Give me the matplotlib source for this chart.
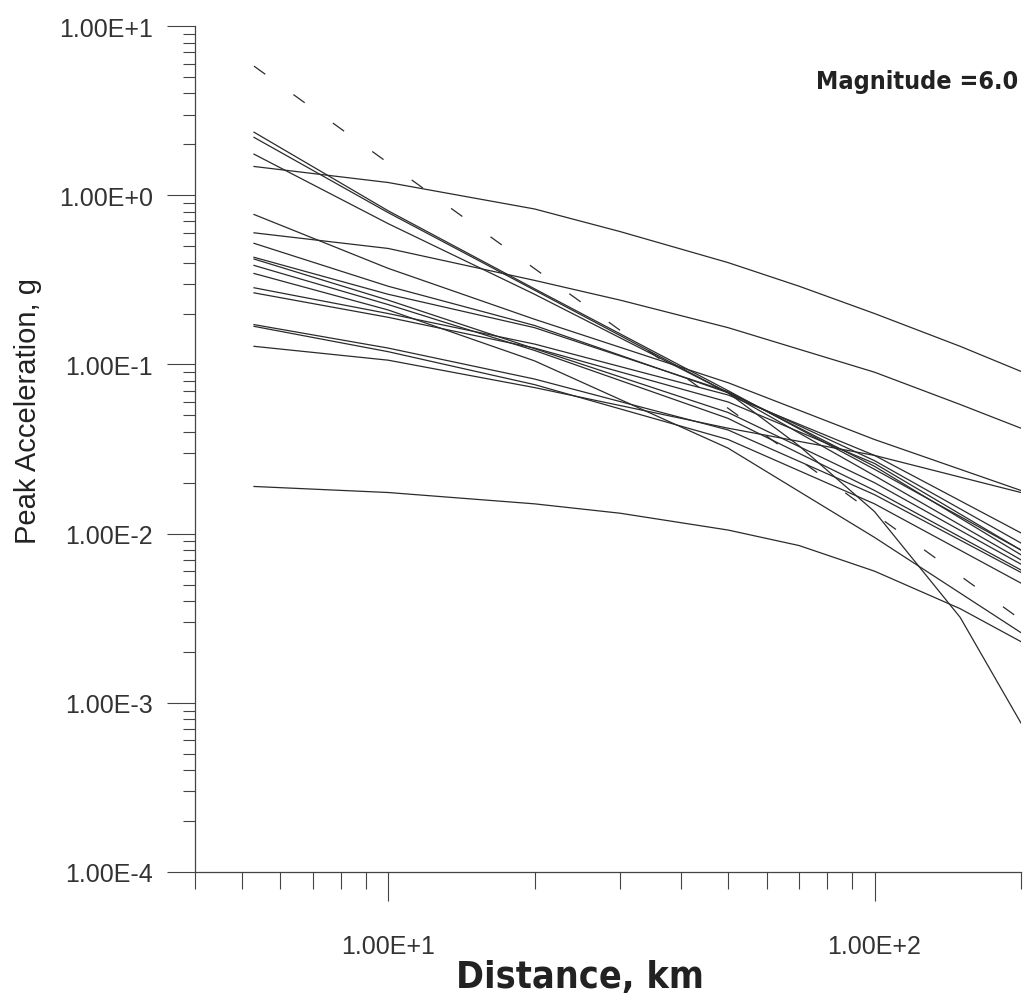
import numpy as np
import matplotlib.pyplot as plt
from matplotlib.ticker import LogLocator, FuncFormatter, NullFormatter

dist_std = [5.3, 10, 20, 50, 100, 200]
dist_a = [5.3, 10, 20, 30, 50, 70, 100, 150, 200]
dist_b = [5.3, 10, 20, 30, 50, 100, 150, 200]
dist_c = [5.3, 10, 20, 30, 50, 70, 100, 150, 200]
dist_d = [5.3, 10, 20, 50, 70, 100, 150, 200]
dist_dash = [5.3, 30, 200]

# peak acceleration (g)
pga_a = [1.48, 1.19, 0.83, 0.61, 0.40, 0.29, 0.20, 0.128, 0.091]
pga_b = [0.60, 0.485, 0.314, 0.24, 0.165, 0.090, 0.058, 0.042]
pga_c = [0.019, 0.0175, 0.0150, 0.0132, 0.0105, 0.0085, 0.0060, 0.0036, 0.0023]
pga_d = [1.75, 0.68, 0.26, 0.068, 0.033, 0.0135, 0.0032, 0.00076]
pga_dash = [5.8, 0.159, 0.0031]

pga_s1 = [2.36, 0.81, 0.28, 0.070, 0.024, 0.0080]
pga_s2 = [2.20, 0.79, 0.275, 0.068, 0.022, 0.0070]
pga_l4 = [0.77, 0.37, 0.185, 0.078, 0.036, 0.018]
pga_l5 = [0.52, 0.29, 0.17, 0.068, 0.027, 0.0088]
pga_l6 = [0.43, 0.26, 0.165, 0.069, 0.025, 0.0075]
pga_l7 = [0.42, 0.24, 0.124, 0.052, 0.020, 0.0066]
pga_l8 = [0.385, 0.226, 0.121, 0.048, 0.018, 0.0061]
pga_l9 = [0.345, 0.21, 0.105, 0.032, 0.0095, 0.0026]
pga_l10 = [0.284, 0.20, 0.132, 0.066, 0.029, 0.0101]
pga_l11 = [0.265, 0.19, 0.125, 0.060, 0.026, 0.0080]
pga_l12 = [0.172, 0.125, 0.082, 0.041, 0.017, 0.0059]
pga_l13 = [0.168, 0.119, 0.076, 0.036, 0.015, 0.0051]
pga_l14 = [0.128, 0.106, 0.073, 0.042, 0.029, 0.0175]

magnitude_text = "Magnitude =6.0"

plt.rcParams['font.family'] = ['Liberation Sans', 'DejaVu Sans']
plt.rcParams['lines.scale_dashes'] = False

fig = plt.figure(figsize=(10.24, 10.04), dpi=100)
ax = fig.add_axes([0.19, 0.1305, 0.807, 0.8425])

line_kw = dict(color='#2b2b2b', lw=0.9)
ax.plot(dist_a, pga_a, **line_kw)
ax.plot(dist_b, pga_b, **line_kw)
ax.plot(dist_c, pga_c, **line_kw)
ax.plot(dist_d, pga_d, **line_kw)
for pga in [pga_s1, pga_s2, pga_l4, pga_l5, pga_l6, pga_l7, pga_l8, pga_l9,
            pga_l10, pga_l11, pga_l12, pga_l13, pga_l14]:
    ax.plot(dist_std, pga, **line_kw)
ax.plot(dist_dash, pga_dash, color='#2b2b2b', lw=0.9, dashes=(10, 25))

ax.set_xscale('log')
ax.set_yscale('log')
ax.set_xlim(4, 200)
ax.set_ylim(1e-4, 10)

def sci_label(v, pos):
    e = int(round(np.log10(v)))
    return f"1.00E{e:+d}"

for axis in (ax.xaxis, ax.yaxis):
    axis.set_major_locator(LogLocator(base=10))
    axis.set_minor_locator(LogLocator(base=10, subs=np.arange(2, 10)))
    axis.set_major_formatter(FuncFormatter(sci_label))
    axis.set_minor_formatter(NullFormatter())

for s in ['top', 'right']:
    ax.spines[s].set_visible(False)
for s in ['left', 'bottom']:
    ax.spines[s].set_color('#444444')
    ax.spines[s].set_linewidth(0.9)

ax.tick_params(axis='both', which='both', direction='out', color='#444444', width=0.8)
ax.tick_params(axis='y', which='major', length=20, pad=10, labelsize=18, labelcolor='#333333')
ax.tick_params(axis='y', which='minor', length=9)
ax.tick_params(axis='x', which='major', length=21, pad=24, labelsize=18, labelcolor='#333333')
ax.tick_params(axis='x', which='minor', length=12)

ax.set_xlabel('Distance, km', fontsize=27, family='DejaVu Sans', fontstretch='condensed',
              fontweight='bold', va='center', color='#222222')
ax.xaxis.set_label_coords(0.466, -0.124)
ax.set_ylabel('Peak Acceleration, g', fontsize=21, va='center', color='#222222')
ax.yaxis.set_label_coords(-0.202, 0.546)

ax.text(0.874, 0.935, magnitude_text, transform=ax.transAxes, fontsize=18,
        family='DejaVu Sans', fontstretch='condensed', fontweight='bold',
        ha='center', va='center', color='#222222')

fig.savefig('out.png', dpi=100)
